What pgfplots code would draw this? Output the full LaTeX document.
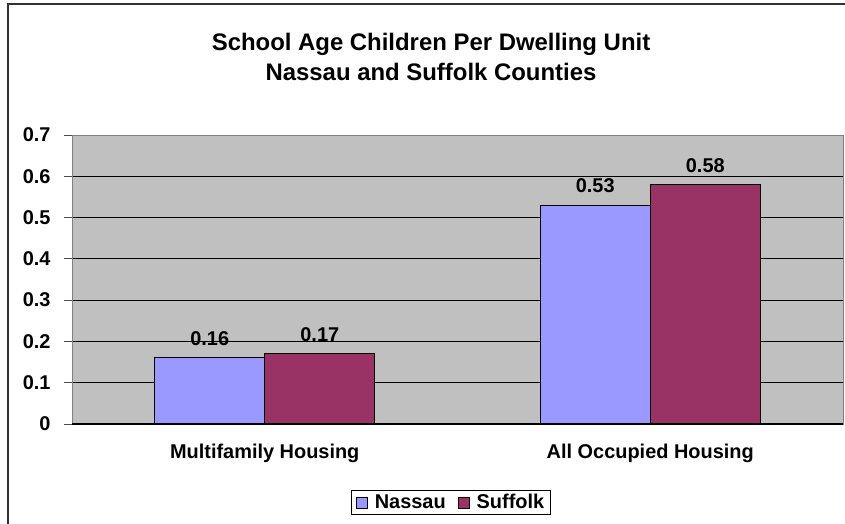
\documentclass[border=0pt]{standalone}
\usepackage{fontspec}
\setmainfont{Liberation Sans}
\usepackage{pgfplots}
\pgfplotsset{compat=1.18}
\definecolor{nassau}{HTML}{9999FF}
\definecolor{suffolk}{HTML}{993366}
\definecolor{plotbg}{HTML}{C0C0C0}
\newcommand{\lblfont}{\fontsize{20}{24}\selectfont\bfseries}
\begin{document}
\begin{tikzpicture}
\useasboundingbox (-72bp,-100bp) rectangle (773bp,424bp);
\draw[line width=2bp, draw=black!80] (-64bp,-130bp) -- (-64bp,420bp) -- (800bp,420bp);
\begin{axis}[
  at={(0,0)}, anchor=south west,
  scale only axis, width=771bp, height=289bp,
  ybar=0pt, bar width=0.2855,
  xmin=-0.5, xmax=1.5, ymin=0, ymax=0.7,
  /pgf/number format/assume math mode=true,
  xtick={0,1}, xticklabels={Multifamily Housing, All Occupied Housing},
  x tick style={draw=none},
  extra x ticks={-0.5,0.5,1.5}, extra x tick labels={},
  extra x tick style={tick style={draw=black, line width=1bp}, major tick length=7bp, grid=none},
  ytick={0,0.1,0.2,0.3,0.4,0.5,0.6,0.7},
  yticklabels={0,0.1,0.2,0.3,0.4,0.5,0.6,0.7},
  tick align=outside, major tick length=8bp, tick pos=left,
  y tick style={draw=black!70, line width=1bp},
  ymajorgrids, grid style={black, line width=1bp},
  axis background/.style={fill=plotbg},
  axis line style={draw=gray, line width=1bp},
  tick label style={font=\lblfont},
  xticklabel style={yshift=-9bp},
  yticklabel style={xshift=-10bp},
  nodes near coords,
  nodes near coords style={font=\lblfont, yshift=8.5bp},
  legend style={at={(0.4916,0)}, anchor=center, yshift=-78.5bp,
    legend columns=2, draw=black, line width=1bp, font=\lblfont,
    inner xsep=4bp,
    /tikz/every odd column/.append style={column sep=5bp},
    /tikz/every even column/.append style={column sep=10bp}},
  legend image code/.code={\draw[#1, draw=black, line width=1bp] (0bp,-5.5bp) rectangle (11bp,5.5bp);},
]
\addplot[fill=nassau, draw=black, line width=1bp] coordinates {(0,0.16) (1,0.53)};
\addplot[fill=suffolk, draw=black, line width=1bp] coordinates {(0,0.17) (1,0.58)};
\legend{Nassau, Suffolk}
\draw[black, line width=1.3bp] (rel axis cs:0,0) -- (rel axis cs:1,0);
\end{axis}
\node[font=\fontsize{24}{30}\selectfont\bfseries, align=center] at (359bp,367bp) {School Age Children Per Dwelling Unit\\Nassau and Suffolk Counties};
\end{tikzpicture}
\end{document}
